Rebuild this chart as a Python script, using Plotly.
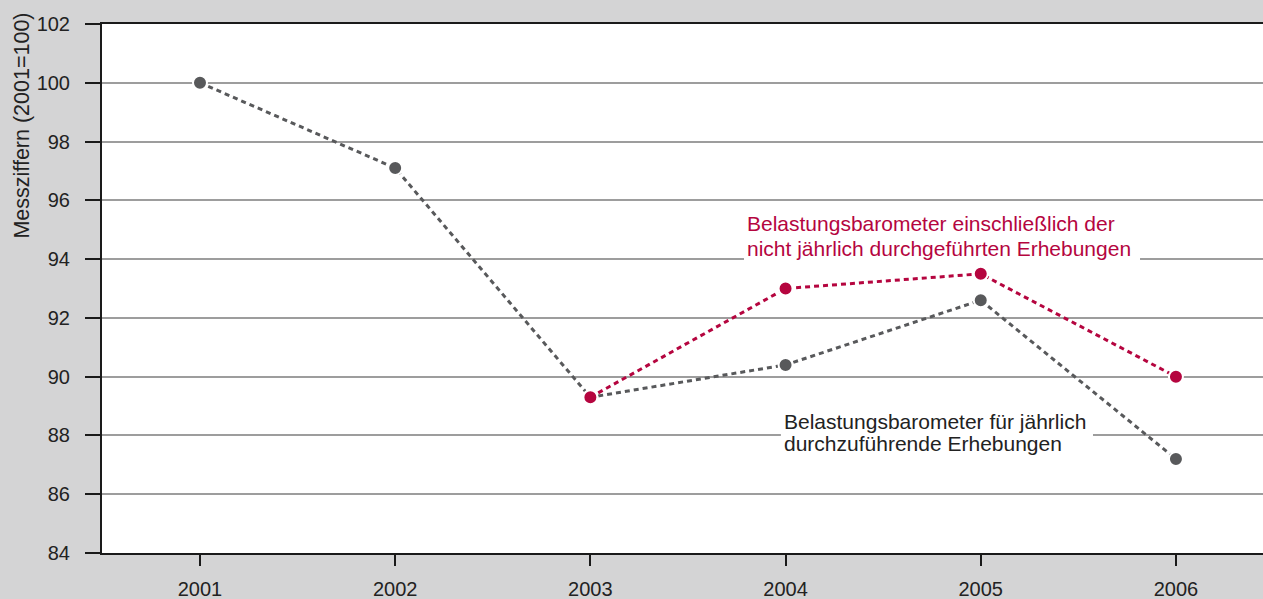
import plotly.graph_objects as go

years = [2001, 2002, 2003, 2004, 2005, 2006]
annual_values = [100.0, 97.1, 89.3, 90.4, 92.6, 87.2]
incl_years = [2003, 2004, 2005, 2006]
incl_values = [89.3, 93.0, 93.5, 90.0]
y_ticks = [84, 86, 88, 90, 92, 94, 96, 98, 100, 102]
red_label = ["Belastungsbarometer einschließlich der", "nicht jährlich durchgeführten Erhebungen"]
gray_label = ["Belastungsbarometer für jährlich", "durchzuführende Erhebungen"]

GRAY = "#58595b"
RED = "#b5053f"
FONT = "Liberation Sans, Arial, sans-serif"
TXT = "#222222"

fig = go.Figure()
fig.add_trace(go.Scatter(
    x=years, y=annual_values, mode="lines+markers",
    line=dict(color=GRAY, width=3, dash="5px,4px"),
    marker=dict(size=14, color=GRAY, line=dict(color="white", width=2)),
    showlegend=False, hoverinfo="skip"))
fig.add_trace(go.Scatter(
    x=incl_years, y=incl_values, mode="lines+markers",
    line=dict(color=RED, width=3, dash="5px,4px"),
    marker=dict(size=14, color=RED, line=dict(color="white", width=2)),
    showlegend=False, hoverinfo="skip"))

# white label backgrounds (between gridlines and traces)
fig.add_shape(type="rect", xref="x", yref="y", x0=2003.787, x1=2005.816, y0=93.90, y1=95.67,
              fillcolor="white", line=dict(width=0), layer="between")
fig.add_shape(type="rect", xref="x", yref="y", x0=2003.976, x1=2005.575, y0=87.23, y1=88.93,
              fillcolor="white", line=dict(width=0), layer="between")

for txt, yv in zip(red_label, [95.2, 94.36]):
    fig.add_annotation(
        x=2003.79, y=yv, xref="x", yref="y", xanchor="left", yanchor="middle",
        text=txt, showarrow=False, align="left", font=dict(family=FONT, size=21, color=RED))
for txt, yv in zip(gray_label, [88.46, 87.71]):
    fig.add_annotation(
        x=2003.98, y=yv, xref="x", yref="y", xanchor="left", yanchor="middle",
        text=txt, showarrow=False, align="left", font=dict(family=FONT, size=21, color=TXT))
fig.add_annotation(
    x=0, y=0.808, xref="paper", yref="paper", xshift=-80, xanchor="center", yanchor="middle",
    textangle=-90, text="Messziffern (2001=100)", showarrow=False,
    font=dict(family=FONT, size=21.5, color=TXT))

fig.update_layout(
    width=1263, height=599,
    margin=dict(l=102, r=0, t=24, b=46, autoexpand=False),
    paper_bgcolor="#d4d4d5", plot_bgcolor="white",
    font=dict(family=FONT, size=20, color=TXT),
    xaxis=dict(range=[2000.498, 2006.446], tickvals=years, ticktext=[str(y) for y in years],
               showgrid=False, zeroline=False, showline=True, linecolor="#1a1a1a", linewidth=2,
               mirror=True, ticks="outside", ticklen=11, tickwidth=2, tickcolor="#1a1a1a",
               ticklabelstandoff=6, automargin=False),
    yaxis=dict(range=[84, 102], tickvals=y_ticks, showgrid=True, gridcolor="#9d9d9d", gridwidth=1.5,
               zeroline=False, showline=True, linecolor="#1a1a1a", linewidth=2,
               ticks="outside", ticklen=15, tickwidth=2, tickcolor="#1a1a1a",
               ticklabelstandoff=11, automargin=False),
)

fig.write_html("out.html", config={"displayModeBar": False},
               post_script="document.body.style.margin='0';document.body.style.overflow='hidden';")
